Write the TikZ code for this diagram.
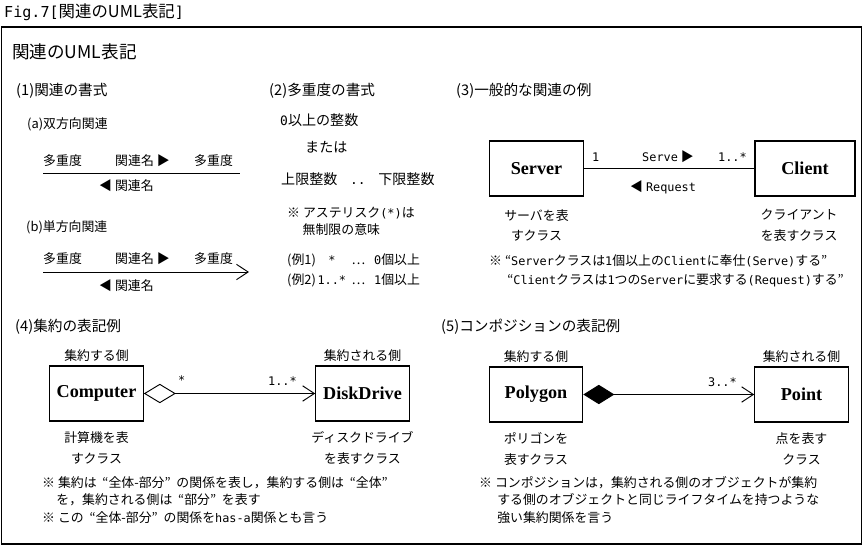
\documentclass[tikz,border=0pt]{standalone}
\usepackage{fontspec}
\setmainfont{Noto Sans CJK JP}
\newfontfamily\classfont{Liberation Serif}
\newfontfamily\latinmono{DejaVu Sans Mono}[Scale=0.92]
\usepackage{tikz}
\usetikzlibrary{arrows.meta, positioning}
\newcommand{\bodysize}{\fontsize{11}{14}\selectfont}
\newcommand{\headsize}{\fontsize{12.5}{15}\selectfont}
\newcommand{\bigsize}{\fontsize{12}{14}\selectfont}
\newcommand{\mono}[1]{{\latinmono #1}}
\newcommand{\jquote}[1]{\hspace{0.45em}“#1”\hspace{0.45em}}

\begin{document}
\begin{tikzpicture}[
        x=0.03cm, y=-0.03cm,
        every node/.style={inner sep=0pt, font=\bodysize},
        txt/.style={anchor=west},
        head/.style={anchor=west, font=\headsize},
        cls/.style={draw, line width=1.1pt, minimum width=2.8cm, minimum height=1.65cm, font=\classfont\bfseries\fontsize{15.5}{18}\selectfont},
        boxcap/.style={align=center, font=\fontsize{11}{17.5}\selectfont},
        note/.style={anchor=west, align=left, font=\fontsize{11}{15}\selectfont},
        assoc/.style={line width=0.8pt},
        navi/.style={assoc, -{Straight Barb[length=3.5mm, width=4.6mm]}}
    ]
        \useasboundingbox (0,0) rectangle (863,545);

        % Caption and outer frame
        \node[txt, font=\fontsize{14}{16}\selectfont] (fig_label) at (4,12) {\mono{Fig.7[}関連のUML表記\mono{]}};
        \draw[line width=1pt] (1.5,27) rectangle (861.5,544);
        \node[txt, font=\fontsize{15}{18}\selectfont] (main_title) at (12,52) {関連のUML表記};

        % (1) Format of an association
        \node[head] (fmt_head) at (16,91) {(1)関連の書式};
        \node[txt] (bi_head) at (27,124) {(a)双方向関連};
        \coordinate (bi_start) at (43,173);
        \coordinate (bi_end) at (240,173);
        \draw[assoc] (bi_start) -- (bi_end);
        \node[txt] (bi_mult_l) at (43,161) {多重度};
        \node[txt] (bi_name) at (115,161) {関連名 ▶};
        \node[txt] (bi_mult_r) at (194,161) {多重度};
        \node[txt] (bi_name_rev) at (99,186) {◀ 関連名};

        \node[txt] (uni_head) at (26,227) {(b)単方向関連};
        \coordinate (uni_start) at (43,272);
        \coordinate (uni_end) at (249,272);
        \draw[navi] (uni_start) -- (uni_end);
        \node[txt] (uni_mult_l) at (43,259) {多重度};
        \node[txt] (uni_name) at (115,259) {関連名 ▶};
        \node[txt] (uni_mult_r) at (194,259) {多重度};
        \node[txt] (uni_name_rev) at (99,286) {◀ 関連名};

        % (2) Format of a multiplicity
        \node[head] (mult_head) at (269,91) {(2)多重度の書式};
        \node[txt, font=\bigsize] (mult_min) at (280,120) {\mono{0}以上の整数};
        \node[txt, font=\bigsize] (mult_or) at (305,147) {または};
        \node[txt, font=\bigsize] (mult_range) at (281,179) {上限整数\hspace{0.9em}\mono{..}\hspace{0.9em}下限整数};
        \node[note] (mult_note) at (287,221.5) {※ アステリスク\mono{(*)}は\\\hspace*{1.2em}無制限の意味};
        \node[txt] (mult_ex1) at (287,260) {(例1)\makebox[0.95cm]{\mono{*}}\hspace{0.3em}⋯\hspace{0.7em}\mono{0}個以上};
        \node[txt] (mult_ex2) at (287,280) {(例2)\makebox[0.95cm]{\mono{1..*}}\hspace{0.3em}⋯\hspace{0.7em}\mono{1}個以上};

        % (3) A general association
        \node[head] (gen_head) at (456,91) {(3)一般的な関連の例};
        \node[cls] (server) at (536.5,168.5) {Server};
        \node[cls, minimum width=3cm] (client) at (805,168.5) {Client};
        \draw[assoc] (server) -- (client);
        \node[txt] (server_mult) at (592,157) {\mono{1}};
        \node[txt] (serve_lbl) at (642,157) {\mono{Serve} ▶};
        \node[anchor=east] (client_mult) at (747,157) {\mono{1..*}};
        \node[txt] (request_lbl) at (630,187) {◀ \mono{Request}};
        \node[boxcap, below=0.38cm of server] (server_cap) {サーバを表\\すクラス};
        \node[boxcap, below=0.38cm of client, xshift=-5pt] (client_cap) {クライアント\\を表すクラス};
        \node[note, font=\fontsize{11}{16}\selectfont] (gen_note) at (489,271) {※ “\mono{Server}クラスは\mono{1}個以上の\mono{Client}に奉仕\mono{(Serve)}する”\\\hspace*{1.4em}“\mono{Client}クラスは\mono{1}つの\mono{Server}に要求する\mono{(Request)}する”};

        % (4) Aggregation
        \node[head] (agg_head) at (15,327) {(4)集約の表記例};
        \node[cls] (computer) at (96.5,393.5) {Computer};
        \node[cls] (disk) at (362.5,393.5) {DiskDrive};
        \draw[assoc, {Diamond[open, length=9.6mm, width=5.8mm]}-{Straight Barb[length=3.5mm, width=4.6mm]}] (computer) -- (disk);
        \node[above=0.1cm of computer] (computer_role) {集約する側};
        \node[above=0.1cm of disk] (disk_role) {集約される側};
        \node[txt] (computer_mult) at (178,380) {\mono{*}};
        \node[anchor=east] (disk_mult) at (297,381) {\mono{1..*}};
        \node[boxcap, below=0.3cm of computer] (computer_cap) {計算機を表\\すクラス};
        \node[boxcap, below=0.3cm of disk] (disk_cap) {ディスクドライブ\\を表すクラス};
        \node[note] (agg_note) at (42,500) {※ 集約は\jquote{全体-部分}の関係を表し，集約する側は\jquote{全体}\\\hspace*{1.1em}を，集約される側は\jquote{部分}を表す\\※ この\jquote{全体-部分}の関係を\mono{has-a}関係とも言う};

        % (5) Composition
        \node[head] (comp_head) at (441,327) {(5)コンポジションの表記例};
        \node[cls] (polygon) at (536,394.5) {Polygon};
        \node[cls] (point) at (801.5,394.5) {Point};
        \draw[assoc, {Diamond[length=9.3mm, width=5.8mm]}-{Straight Barb[length=3.5mm, width=4.6mm]}] (polygon) -- (point);
        \node[above=0.1cm of polygon] (polygon_role) {集約する側};
        \node[above=0.1cm of point] (point_role) {集約される側};
        \node[anchor=east] (point_mult) at (737,382) {\mono{3..*}};
        \node[boxcap, below=0.3cm of polygon] (polygon_cap) {ポリゴンを\\表すクラス};
        \node[boxcap, below=0.3cm of point] (point_cap) {点を表す\\クラス};
        \node[note] (comp_note) at (479,500) {※ コンポジションは，集約される側のオブジェクトが集約\\\hspace*{1.4em}する側のオブジェクトと同じライフタイムを持つような\\\hspace*{1.4em}強い集約関係を言う};

    \end{tikzpicture}
\end{document}
